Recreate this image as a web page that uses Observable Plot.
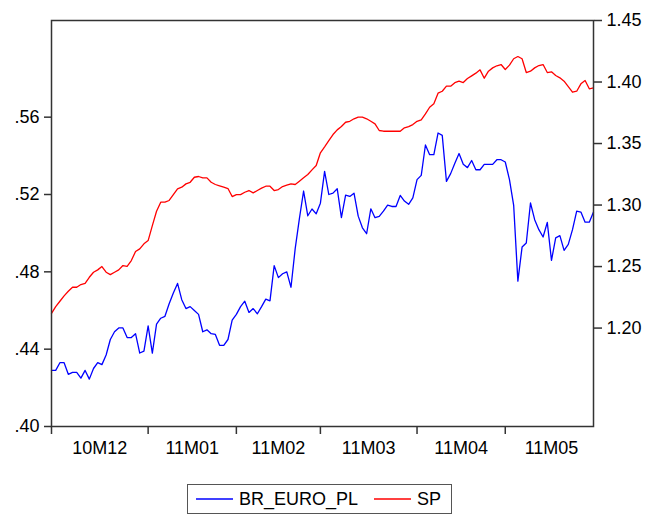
<!DOCTYPE html>
<html><head><meta charset="utf-8">
<script src="https://cdn.jsdelivr.net/npm/d3@7"></script>
<script src="https://cdn.jsdelivr.net/npm/@observablehq/plot@0.6"></script>
<style>
body{margin:0;background:#fff;font-family:"Liberation Sans",Arial,sans-serif;}
#legend{margin-left:187px;margin-top:14px;height:28px;border:1px solid #555;display:inline-flex;align-items:center;font-size:18px;padding:0 10px 0 8px;}
#legend .item{display:flex;align-items:center;}
#legend svg{margin-right:6px;}
</style></head><body>
<div id="chart"></div>
<div id="legend"></div>
<script>
// Business-day observations, Dec 2010 - May 2011
const monthLabels = ["10M12","11M01","11M02","11M03","11M04","11M05"];
const monthStarts = [0,23,44,64,87,108];
const nObs = 130;

const brEuroPl = [
.429,.429,.433,.433,.427,.428,.428,.425,.429,.4245,
.430,.433,.432,.437,.445,.449,.451,.451,.446,.446,
.448,.438,.439,.452,.438,.453,.456,.457,.4635,.469,
.474,.4656,.461,.462,.460,.458,.449,.450,.448,.4476,
.442,.442,.445,.455,.458,.462,.4648,.459,.461,.4583,
.462,.4659,.465,.4832,.477,.479,.480,.472,.492,.5075,
.5218,.509,.5125,.510,.5155,.532,.520,.5207,.523,.508,
.5197,.519,.5207,.5088,.5028,.4997,.5126,.508,.5087,.5114,
.5145,.5138,.5138,.5195,.5166,.5149,.5183,.5277,.5299,.5456,
.5406,.5406,.5518,.5506,.5268,.5308,.5362,.5412,.5356,.5339,
.5376,.5328,.5328,.5356,.5356,.5356,.538,.538,.5368,.5277,
.5144,.4752,.4928,.4949,.5156,.507,.5018,.498,.5056,.4859,
.4976,.4987,.4911,.4942,.5018,.5114,.5109,.5057,.5057,.5109
];

const sp = [
1.212,1.2175,1.2218,1.2262,1.2299,1.2332,1.2332,1.2354,1.2364,1.2413,
1.2454,1.2473,1.25,1.2454,1.2435,1.2454,1.2473,1.2508,1.2502,1.2549,
1.2622,1.2644,1.2685,1.2711,1.2833,1.295,1.3023,1.3023,1.3037,1.3085,
1.3132,1.3145,1.3172,1.3185,1.3226,1.3232,1.3221,1.3221,1.3185,1.3167,
1.3156,1.3145,1.3134,1.3069,1.3085,1.3085,1.3104,1.3118,1.3099,1.3118,
1.3137,1.3153,1.3153,1.3118,1.3126,1.315,1.3161,1.3172,1.3167,1.3194,
1.3221,1.3248,1.3286,1.3321,1.3425,1.3473,1.3524,1.3573,1.3611,1.3638,
1.3673,1.3681,1.3701,1.3714,1.3714,1.3701,1.3681,1.366,1.3606,1.36,
1.36,1.36,1.36,1.36,1.3628,1.3638,1.3654,1.3681,1.3693,1.3741,
1.3795,1.3823,1.3909,1.3925,1.3966,1.3966,1.3995,1.4007,1.3996,1.4028,
1.405,1.4072,1.4099,1.4031,1.4088,1.4115,1.4132,1.4142,1.4102,1.4137,
1.4189,1.4207,1.4189,1.4077,1.4088,1.4115,1.4134,1.4142,1.4077,1.4083,
1.4053,1.4034,1.4007,1.3963,1.3917,1.3925,1.3985,1.4012,1.3945,1.3953
];

const leftTicks = [0.40,0.44,0.48,0.52,0.56];
const rightTicks = [1.20,1.25,1.30,1.35,1.40,1.45];
const leftDomain = [0.40,0.61];
const rightDomain = [1.12,1.45];

const series = [
  {name:"BR_EURO_PL", color:"#0000ff"},
  {name:"SP", color:"#ff0000"}
];

// map right-axis values into left-axis units
const r2l = d3.scaleLinear().domain(rightDomain).range(leftDomain);

const rows = brEuroPl.map((v,i)=>({i, blue:v, red:r2l(sp[i])}));

const ends = monthStarts.slice(1).concat([nObs]);
const labelPos = monthStarts.map((s,k)=>(s+ends[k])/2);
const labelMap = new Map(labelPos.map((p,k)=>[p,monthLabels[k]]));

const chart = Plot.plot({
  width:647, height:470,
  marginLeft:51, marginRight:54, marginTop:20, marginBottom:44,
  x:{domain:[0,nObs-1], label:null},
  y:{domain:leftDomain, label:null},
  style:{fontFamily:"Liberation Sans, Arial, sans-serif", fontSize:"18px", background:"white", color:"black"},
  marks:[
    Plot.lineY(rows,{x:"i", y:"blue", stroke:series[0].color, strokeWidth:1.3}),
    Plot.lineY(rows,{x:"i", y:"red", stroke:series[1].color, strokeWidth:1.3}),
    Plot.frame({stroke:"#333", strokeWidth:1.5}),
    Plot.axisY(leftTicks,{anchor:"left", label:null, tickSize:7, tickPadding:5, stroke:"#333", strokeWidth:1.5, fill:"black", fontSize:18,
      tickFormat:d=>d3.format(".2f")(d).replace(/^0/,"")}),
    Plot.axisY(rightTicks.map(r2l),{anchor:"right", label:null, tickSize:8, tickPadding:5, stroke:"#333", strokeWidth:1.5, fill:"black", fontSize:18,
      tickFormat:d=>r2l.invert(d).toFixed(2)}),
    Plot.axisX(monthStarts,{anchor:"bottom", label:null, tickSize:8, stroke:"#333", strokeWidth:1.5, tickFormat:()=>""}),
    Plot.axisX(labelPos,{anchor:"bottom", label:null, tickSize:0, tickPadding:15, fill:"black", fontSize:18,
      tickFormat:d=>labelMap.get(d)})
  ]
});
document.getElementById("chart").appendChild(chart);

const legend = document.getElementById("legend");
series.forEach((s,k)=>{
  const it = document.createElement("div");
  it.className="item";
  if(k>0) it.style.marginLeft="16px";
  it.innerHTML = `<svg width="37" height="4"><line x1="0" x2="37" y1="2" y2="2" stroke="${s.color}" stroke-width="1.5"/></svg><span>${s.name}</span>`;
  legend.appendChild(it);
});
</script>
</body></html>
